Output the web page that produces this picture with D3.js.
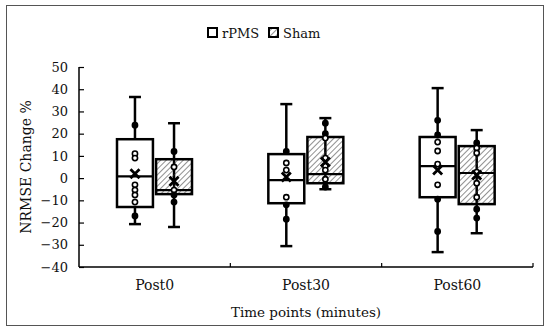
<!DOCTYPE html>
<html>
<head>
<meta charset="utf-8">
<script src="https://cdn.jsdelivr.net/npm/d3@7/dist/d3.min.js"></script>
<style>
 body { margin: 0; background: #fff; }
 svg text { font-family: "DejaVu Serif", serif; fill: #111; }
</style>
</head>
<body>
<div id="chart"></div>
<script>
// categories and series
var timepoints = ["Post0", "Post30", "Post60"];
var groups = ["rPMS", "Sham"];
var yTicks = [-40, -30, -20, -10, 0, 10, 20, 30, 40, 50];

// box stats, per time point
var rpmsMin    = [-20.7, -30.6, -33.3];
var rpmsQ1     = [-13.0, -11.3, -8.6];
var rpmsMedian = [0.8, -0.9, 5.4];
var rpmsQ3     = [17.5, 10.8, 18.5];
var rpmsMax    = [36.5, 33.3, 40.5];
var rpmsMean   = [2.0, 0.5, 3.6];
var rpmsPoints = [
  [23.8, 11, 9, -3, -5.4, -7.6, -10.8, -17],
  [12, 6.8, 3.6, -8.6, -12, -18.5],
  [26, 19.4, 16.2, 12.2, 6.3, -3, -9.5, -24]
];

var shamMin    = [-22, -5, -24.8];
var shamQ1     = [-7.2, -2.3, -11.7];
var shamMedian = [-5.4, 1.8, 2.3];
var shamQ3     = [8.5, 18.5, 14.4];
var shamMax    = [24.7, 27, 21.6];
var shamMean   = [-1.4, 7.2, 1.4];
var shamPoints = [
  [12, 5, -5.4, -7.6, -10.8],
  [24.7, 20, 18, 9, 5.4, 3.6, -0.5, -4],
  [15.8, 13.5, 11.3, 2.7, -2.3, -8.6, -14, -18]
];

function rows(min, q1, med, q3, max, mean, pts, g) {
  return timepoints.map(function(t, i) {
    return {t: t, g: g, min: min[i], q1: q1[i], med: med[i], q3: q3[i],
            max: max[i], mean: mean[i], pts: pts[i]};
  });
}
var data = rows(rpmsMin, rpmsQ1, rpmsMedian, rpmsQ3, rpmsMax, rpmsMean, rpmsPoints, "rPMS")
  .concat(rows(shamMin, shamQ1, shamMedian, shamQ3, shamMax, shamMean, shamPoints, "Sham"));

var W = 550, H = 333;
var svg = d3.select("#chart").append("svg").attr("width", W).attr("height", H);

var defs = svg.append("defs");
defs.append("pattern")
  .attr("id", "hatch")
  .attr("patternUnits", "userSpaceOnUse")
  .attr("width", 4).attr("height", 4)
  .attr("patternTransform", "rotate(45)")
  .append("line")
  .attr("x1", 0).attr("y1", 0).attr("x2", 0).attr("y2", 4)
  .attr("stroke", "#333").attr("stroke-width", 1.1);

// outer frame
svg.append("rect")
  .attr("x", 6.5).attr("y", 5.5).attr("width", 537).attr("height", 320)
  .attr("fill", "none").attr("stroke", "#555").attr("stroke-width", 1);

var x = d3.scaleBand().domain(timepoints).range([79, 533]).padding(0);
var xs = d3.scaleBand().domain(groups).range([38, 113]).paddingInner(0.08);
var y = d3.scaleLinear().domain([-40, 50]).range([267, 67]);

// y axis
var yAxis = svg.append("g").attr("transform", "translate(79,0)")
  .call(d3.axisRight(y).tickValues(yTicks).tickSize(5).tickFormat(d3.format("d")));
yAxis.attr("font-family", null).attr("font-size", null);
yAxis.select(".domain").attr("stroke", "#000").attr("stroke-width", 1.5).attr("d", "M0,67V267");
yAxis.selectAll(".tick line").attr("stroke", "#000").attr("stroke-width", 1.2);
yAxis.selectAll(".tick text")
  .attr("x", -11).attr("text-anchor", "end").attr("fill", null)
  .style("font-size", "13px");

// x axis with boundary ticks
var xg = svg.append("g");
xg.append("line").attr("x1", 79).attr("x2", 533).attr("y1", 267).attr("y2", 267)
  .attr("stroke", "#000").attr("stroke-width", 1.5);
var bounds = timepoints.map(function(t) { return x(t); }).concat([x.range()[1]]);
xg.selectAll(".xt").data(bounds.slice(1)).enter().append("line")
  .attr("x1", function(d) { return d; }).attr("x2", function(d) { return d; })
  .attr("y1", 267).attr("y2", 263).attr("stroke", "#000").attr("stroke-width", 1.2);
xg.selectAll(".xl").data(timepoints).enter().append("text")
  .attr("x", function(d) { return x(d) + x.bandwidth() / 2; })
  .attr("y", 290).attr("text-anchor", "middle")
  .style("font-size", "14px").text(function(d) { return d; });

svg.append("text").attr("x", 306).attr("y", 317).attr("text-anchor", "middle")
  .style("font-size", "13.5px").text("Time points (minutes)");
svg.append("text").attr("transform", "translate(31,167) rotate(-90)")
  .attr("text-anchor", "middle").style("font-size", "14px").text("NRMSE Change %");

// boxes
var boxes = svg.selectAll(".box").data(data).enter().append("g")
  .attr("transform", function(d) { return "translate(" + (x(d.t) + xs(d.g)) + ",0)"; });
var bw = xs.bandwidth();

boxes.append("line")
  .attr("x1", bw / 2).attr("x2", bw / 2)
  .attr("y1", function(d) { return y(d.max); }).attr("y2", function(d) { return y(d.min); })
  .attr("stroke", "#000").attr("stroke-width", 2.5);
boxes.selectAll(".cap").data(function(d) { return [d.max, d.min]; }).enter().append("line")
  .attr("x1", bw / 2 - 6).attr("x2", bw / 2 + 6)
  .attr("y1", function(v) { return y(v); }).attr("y2", function(v) { return y(v); })
  .attr("stroke", "#000").attr("stroke-width", 2.5);
boxes.append("rect")
  .attr("x", 0).attr("width", bw)
  .attr("y", function(d) { return y(d.q3); })
  .attr("height", function(d) { return y(d.q1) - y(d.q3); })
  .attr("fill", function(d) { return d.g === "Sham" ? "url(#hatch)" : "#fff"; })
  .attr("stroke", "#000").attr("stroke-width", 2.5);
boxes.append("line")
  .attr("x1", 0).attr("x2", bw)
  .attr("y1", function(d) { return y(d.med); }).attr("y2", function(d) { return y(d.med); })
  .attr("stroke", "#000").attr("stroke-width", 2.2);

// data points: filled outside the box, open inside
boxes.selectAll(".pt").data(function(d) {
    return d.pts.map(function(v) { return {v: v, inBox: v > d.q1 && v < d.q3}; });
  }).enter().append("circle")
  .attr("cx", bw / 2).attr("cy", function(p) { return y(p.v); }).attr("r", 2.6)
  .attr("fill", function(p) { return p.inBox ? "#fff" : "#000"; })
  .attr("stroke", "#000").attr("stroke-width", 1.6);

// mean marker
boxes.append("path")
  .attr("d", function(d) {
    var cx = bw / 2, cy = y(d.mean), s = 4.5;
    return "M" + (cx - s) + "," + (cy - s) + "L" + (cx + s) + "," + (cy + s) +
           "M" + (cx + s) + "," + (cy - s) + "L" + (cx - s) + "," + (cy + s);
  })
  .attr("stroke", "#000").attr("stroke-width", 2.8);

// legend
var legend = svg.append("g");
var lx = [208, 269];
groups.forEach(function(g, i) {
  legend.append("rect").attr("x", lx[i]).attr("y", 28).attr("width", 9).attr("height", 9)
    .attr("fill", g === "Sham" ? "url(#hatch)" : "#fff")
    .attr("stroke", "#000").attr("stroke-width", 2);
  legend.append("text").attr("x", lx[i] + 14).attr("y", 38)
    .style("font-size", "13px").text(g);
});
</script>
</body>
</html>
